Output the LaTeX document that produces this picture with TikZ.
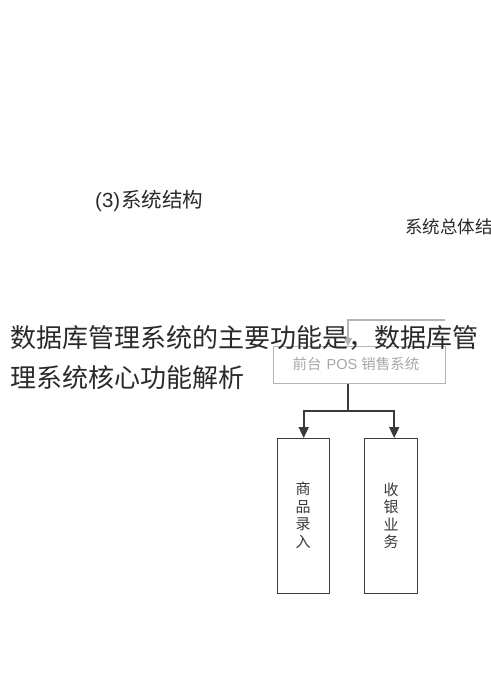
\documentclass[tikz,border=0pt]{standalone}
\usepackage{fontspec}
\setmainfont{Liberation Sans}
\newfontfamily\cjk{Noto Sans CJK SC}
\usetikzlibrary{arrows.meta}
\definecolor{boxgray}{HTML}{B4B4B4}
\definecolor{txtgray}{HTML}{A8A8A8}
\definecolor{darkline}{HTML}{3A3A3A}
\definecolor{bigtext}{HTML}{2A2A2A}
\tikzset{
  lowbox/.style={draw=darkline, line width=1.4pt, minimum width=52pt, minimum height=155pt, inner sep=0pt, anchor=north west},
  vtext/.style={font=\cjk\fontsize{15pt}{17.5pt}\selectfont, text=darkline, align=center, inner sep=0pt},
  darkarrow/.style={draw=darkline, line width=1.8pt, -{Triangle[length=11pt,width=10pt]}},
  grayarrow/.style={draw=boxgray, line width=1.6pt, -{Triangle[length=8pt,width=8pt]}},
}
\begin{document}
\begin{tikzpicture}[x=1pt,y=-1pt]
\useasboundingbox[fill=white] (0,0) rectangle (490,698);
% headings
\node[anchor=base west, inner sep=0pt, text=bigtext, font=\fontsize{20.5pt}{24pt}\selectfont] (title) at (95,207) {(3)\hspace{1pt}{\cjk 系统结构}};
\node[anchor=base west, inner sep=0pt, text=bigtext, font=\cjk\fontsize{17.5pt}{20pt}\selectfont] (sub) at (405,233) {系统总体结};
% diagram
\node[draw=boxgray, line width=1.3pt, minimum width=172pt, minimum height=37pt, inner sep=0pt, anchor=north west] (pos) at (273,346) {};
\node[text=txtgray, inner sep=0pt, font=\fontsize{14.5pt}{17pt}\selectfont] (postxt) at (356,364) {{\cjk 前台}\hspace{5pt}POS\hspace{4pt}{\cjk 销售系统}};
\coordinate (feed) at (445,320);
\coordinate (split) at (348,320);
\draw[grayarrow] (feed) -- (split) -- (split |- pos.north);
\node[lowbox] (left) at (277,438) {};
\node[lowbox, minimum width=53pt] (right) at (364,438) {};
\node[vtext] (lt) at (303,515) {商\\品\\录\\入};
\node[vtext] (rt) at (391,516) {收\\银\\业\\务};
\coordinate (j) at (348,411);
\draw[draw=darkline, line width=1.8pt] (pos.south -| j) -- (j);
\draw[darkarrow] (j) -| (left.north);
\draw[darkarrow] (j) -| ([xshift=3pt]right.north);
% overlay text
\node[anchor=base west, inner sep=0pt, text=bigtext, font=\cjk\fontsize{26pt}{40pt}\selectfont] (l1) at (10,347) {数据库管理系统的主要功能是，数据库管};
\node[anchor=base west, inner sep=0pt, text=bigtext, font=\cjk\fontsize{26pt}{40pt}\selectfont] (l2) at (10,387) {理系统核心功能解析};
\end{tikzpicture}
\end{document}
